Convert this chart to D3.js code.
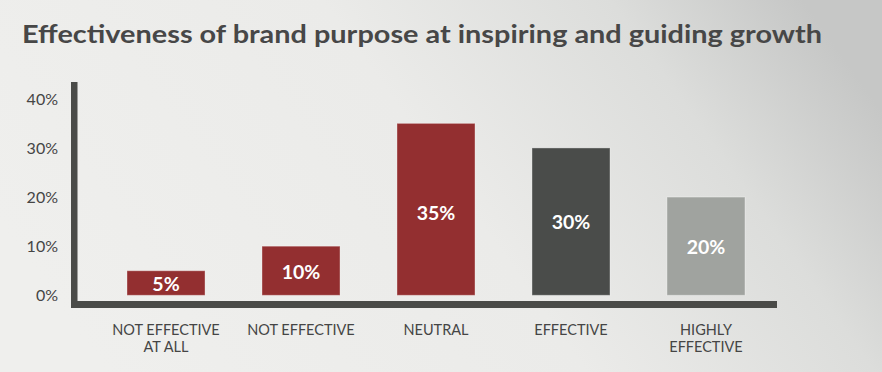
<!DOCTYPE html>
<html><head><meta charset="utf-8">
<script src="https://cdn.jsdelivr.net/npm/d3@7"></script>
<style>html,body{margin:0;padding:0;overflow:hidden;}</style>
</head><body>
<svg id="chart" width="882" height="372"></svg>
<script>
const title = "Effectiveness of brand purpose at inspiring and guiding growth";
const categories = [["NOT EFFECTIVE","AT ALL"],["NOT EFFECTIVE"],["NEUTRAL"],["EFFECTIVE"],["HIGHLY","EFFECTIVE"]];
const values = [5, 10, 35, 30, 20];
const barColors = ["#932f30", "#932f30", "#932f30", "#4a4c4a", "#a0a39f"];
const tickValues = [0, 10, 20, 30, 40];

const svg = d3.select("#chart");
const defs = svg.append("defs");
const g1 = defs.append("linearGradient").attr("id","bg").attr("x1","0").attr("y1","0.6").attr("x2","1").attr("y2","0.3");
g1.append("stop").attr("offset","0").attr("stop-color","#efefed");
g1.append("stop").attr("offset","0.5").attr("stop-color","#ebebe9");
g1.append("stop").attr("offset","0.8").attr("stop-color","#dcdddb");
g1.append("stop").attr("offset","1").attr("stop-color","#c6c7c6");
svg.append("rect").attr("width",882).attr("height",372).attr("fill","url(#bg)");

svg.append("text").text(title)
  .attr("x",22).attr("y",43)
  .attr("font-family","Lato, 'Noto Sans', sans-serif").attr("font-weight","bold")
  .attr("font-size",25.5).attr("fill","#474747")
  .attr("textLength",800).attr("lengthAdjust","spacingAndGlyphs");

const y = d3.scaleLinear().domain([0,40]).range([295.3, 98.8]);
const x = d3.scaleBand().domain(d3.range(values.length)).range([59.5, 812.5]).paddingInner(0.422).paddingOuter(0.5);

// axis lines
svg.append("rect").attr("x",71).attr("y",82).attr("width",6.5).attr("height",226).attr("fill","#4a4b48");
svg.append("rect").attr("x",71).attr("y",301).attr("width",706).attr("height",7).attr("fill","#4a4b48");

// y tick labels
const yAxis = d3.axisLeft(y).tickValues(tickValues).tickFormat(d => d + "%").tickSize(0).tickPadding(0);
const ya = svg.append("g").attr("transform","translate(58,0)").call(yAxis);
ya.select(".domain").remove();
ya.selectAll("text").attr("font-family","Lato, 'Noto Sans', sans-serif").attr("font-size",16)
  .attr("fill","#454545").attr("dy","0.35em");

// bars
svg.selectAll("rect.bar").data(values).join("rect").attr("class","bar")
  .attr("x",(d,i)=>x(i)).attr("width",x.bandwidth())
  .attr("y",d=>y(d)).attr("height",d=>y(0)-y(d))
  .attr("fill",(d,i)=>barColors[i])
  .attr("stroke","rgba(255,255,255,0.35)").attr("stroke-width",1);

// value labels
svg.selectAll("text.val").data(values).join("text").attr("class","val")
  .attr("x",(d,i)=>x(i)+x.bandwidth()/2)
  .attr("y",d=>(y(d)+y(0))/2 + (d>30?4:1))
  .attr("dy","0.35em").attr("text-anchor","middle")
  .attr("font-family","Lato, 'Noto Sans', sans-serif").attr("font-weight","bold")
  .attr("font-size",19.5).attr("fill","#ffffff")
  .text(d=>d+"%");

// category labels
const cl = svg.selectAll("text.cat").data(categories).join("text").attr("class","cat")
  .attr("x",(d,i)=>x(i)+x.bandwidth()/2).attr("y",335)
  .attr("text-anchor","middle")
  .attr("font-family","Lato, 'Noto Sans', sans-serif")
  .attr("font-size",14.5).attr("fill","#454545");
cl.selectAll("tspan").data(d=>d).join("tspan")
  .attr("x",function(){return this.parentNode.getAttribute("x");})
  .attr("dy",(d,i)=>i===0?0:17)
  .text(d=>d);
</script>
</body></html>
